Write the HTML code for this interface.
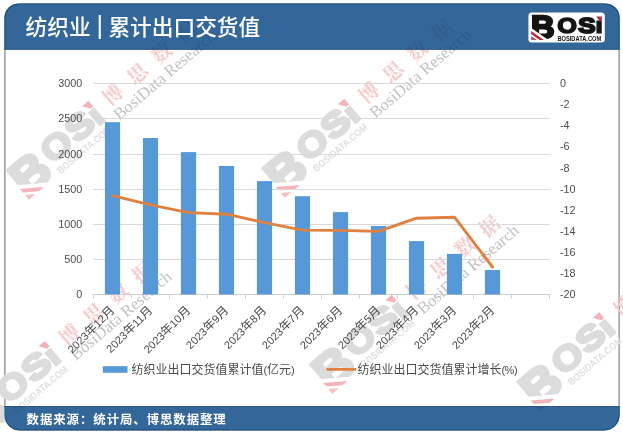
<!DOCTYPE html>
<html lang="zh-CN">
<head>
<meta charset="utf-8">
<title>纺织业 | 累计出口交货值</title>
<style>
html,body{margin:0;padding:0;background:#fff;}
body{width:623px;height:436px;overflow:hidden;position:relative;font-family:"Liberation Sans", "Noto Sans CJK SC", sans-serif;}
svg{position:absolute;left:0;top:0;display:block;}
text{font-family:"Liberation Sans", "Noto Sans CJK SC", sans-serif;}
.ax{font-size:10.8px;fill:#4c4c4c;}
.cj{font-size:12px;}
.lt{font-size:11px;}
.lg{fill:#4c4c4c;}
</style>
</head>
<body>
<svg width="623" height="436" viewBox="0 0 623 436">

<rect x="4.9" y="3.9" width="614.2" height="426.1" rx="14.5" ry="14.5" fill="#ffffff" stroke="#4d5a66" stroke-width="0.9"/>
<g>
<g transform="translate(93.6,113.5) rotate(-40.5)">
<g transform="scale(1.550) translate(-599,-24.8)">
<text transform="matrix(3.2701,0,0,3.1447,530.919,38.399)" font-size="10" font-family="Liberation Sans, sans-serif" font-weight="bold" fill="#dcdcdc" stroke="#dcdcdc" stroke-width="0.75" stroke-linejoin="miter">B</text>
<path d="M530,27.0 L549,40.4 L530,40.4 Z" fill="#ffffff"/>
<path d="M531.2,31.0 L543.8,40 L539.6,40 L531.2,34.0 Z" fill="#f3b3b8"/>
<path d="M531.2,36.0 L536.8,40 L531.2,40 Z" fill="#f5c0c4"/>
<text transform="matrix(2.5359,0,0,2.2308,557.273,32.796)" font-size="10" font-family="Liberation Sans, sans-serif" font-weight="bold" fill="#dcdcdc" stroke="#dcdcdc" stroke-width="0.70" stroke-linejoin="miter">O</text>
<text transform="matrix(2.5942,0,0,2.1750,578.289,32.604)" font-size="10" font-family="Liberation Sans, sans-serif" font-weight="bold" fill="#dcdcdc" stroke="#dcdcdc" stroke-width="0.90" stroke-linejoin="miter">S</text>
<text transform="matrix(2.7692,0,0,1.5946,595.292,33.401)" font-size="10" font-family="Liberation Sans, sans-serif" font-weight="bold" fill="#dcdcdc" stroke="#dcdcdc" stroke-width="0.50" stroke-linejoin="miter">I</text>
<path d="M596.4,16.4 H601.8 V21.2 H599.6 Z" fill="#f3b3b8"/>
<text x="557.4" y="40.9" font-size="6.4" font-family="Liberation Sans, sans-serif" font-weight="bold" fill="#e0e0e0" textLength="43.8" lengthAdjust="spacingAndGlyphs">BOSIDATA.COM</text>
</g>
<text x="17" y="5.5" font-size="20" letter-spacing="12" font-weight="700" fill="#f7cccc" style="font-family:'Liberation Serif','Noto Serif CJK SC',serif">博思数据</text>
<text x="15" y="22.5" font-size="16.7" fill="#c2c2c2" style="font-family:'Liberation Serif',serif">BosiData Research</text>
</g>
<g transform="translate(349.4,111.5) rotate(-40.5)">
<g transform="scale(1.550) translate(-599,-24.8)">
<text transform="matrix(3.2701,0,0,3.1447,530.919,38.399)" font-size="10" font-family="Liberation Sans, sans-serif" font-weight="bold" fill="#dcdcdc" stroke="#dcdcdc" stroke-width="0.75" stroke-linejoin="miter">B</text>
<path d="M530,27.0 L549,40.4 L530,40.4 Z" fill="#ffffff"/>
<path d="M531.2,31.0 L543.8,40 L539.6,40 L531.2,34.0 Z" fill="#f3b3b8"/>
<path d="M531.2,36.0 L536.8,40 L531.2,40 Z" fill="#f5c0c4"/>
<text transform="matrix(2.5359,0,0,2.2308,557.273,32.796)" font-size="10" font-family="Liberation Sans, sans-serif" font-weight="bold" fill="#dcdcdc" stroke="#dcdcdc" stroke-width="0.70" stroke-linejoin="miter">O</text>
<text transform="matrix(2.5942,0,0,2.1750,578.289,32.604)" font-size="10" font-family="Liberation Sans, sans-serif" font-weight="bold" fill="#dcdcdc" stroke="#dcdcdc" stroke-width="0.90" stroke-linejoin="miter">S</text>
<text transform="matrix(2.7692,0,0,1.5946,595.292,33.401)" font-size="10" font-family="Liberation Sans, sans-serif" font-weight="bold" fill="#dcdcdc" stroke="#dcdcdc" stroke-width="0.50" stroke-linejoin="miter">I</text>
<path d="M596.4,16.4 H601.8 V21.2 H599.6 Z" fill="#f3b3b8"/>
<text x="557.4" y="40.9" font-size="6.4" font-family="Liberation Sans, sans-serif" font-weight="bold" fill="#e0e0e0" textLength="43.8" lengthAdjust="spacingAndGlyphs">BOSIDATA.COM</text>
</g>
<text x="17" y="5.5" font-size="20" letter-spacing="12" font-weight="700" fill="#f7cccc" style="font-family:'Liberation Serif','Noto Serif CJK SC',serif">博思数据</text>
<text x="15" y="22.5" font-size="16.7" fill="#c2c2c2" style="font-family:'Liberation Serif',serif">BosiData Research</text>
</g>
<g transform="translate(50.0,353.6) rotate(-40.5)">
<g transform="scale(1.550) translate(-599,-24.8)">
<text transform="matrix(3.2701,0,0,3.1447,530.919,38.399)" font-size="10" font-family="Liberation Sans, sans-serif" font-weight="bold" fill="#dcdcdc" stroke="#dcdcdc" stroke-width="0.75" stroke-linejoin="miter">B</text>
<path d="M530,27.0 L549,40.4 L530,40.4 Z" fill="#ffffff"/>
<path d="M531.2,31.0 L543.8,40 L539.6,40 L531.2,34.0 Z" fill="#f3b3b8"/>
<path d="M531.2,36.0 L536.8,40 L531.2,40 Z" fill="#f5c0c4"/>
<text transform="matrix(2.5359,0,0,2.2308,557.273,32.796)" font-size="10" font-family="Liberation Sans, sans-serif" font-weight="bold" fill="#dcdcdc" stroke="#dcdcdc" stroke-width="0.70" stroke-linejoin="miter">O</text>
<text transform="matrix(2.5942,0,0,2.1750,578.289,32.604)" font-size="10" font-family="Liberation Sans, sans-serif" font-weight="bold" fill="#dcdcdc" stroke="#dcdcdc" stroke-width="0.90" stroke-linejoin="miter">S</text>
<text transform="matrix(2.7692,0,0,1.5946,595.292,33.401)" font-size="10" font-family="Liberation Sans, sans-serif" font-weight="bold" fill="#dcdcdc" stroke="#dcdcdc" stroke-width="0.50" stroke-linejoin="miter">I</text>
<path d="M596.4,16.4 H601.8 V21.2 H599.6 Z" fill="#f3b3b8"/>
<text x="557.4" y="40.9" font-size="6.4" font-family="Liberation Sans, sans-serif" font-weight="bold" fill="#e0e0e0" textLength="43.8" lengthAdjust="spacingAndGlyphs">BOSIDATA.COM</text>
</g>
<text x="17" y="5.5" font-size="20" letter-spacing="12" font-weight="700" fill="#f7cccc" style="font-family:'Liberation Serif','Noto Serif CJK SC',serif">博思数据</text>
<text x="15" y="22.5" font-size="16.7" fill="#c2c2c2" style="font-family:'Liberation Serif',serif">BosiData Research</text>
</g>
<g transform="translate(396.9,307.5) rotate(-40.5)">
<g transform="scale(1.550) translate(-599,-24.8)">
<text transform="matrix(3.2701,0,0,3.1447,530.919,38.399)" font-size="10" font-family="Liberation Sans, sans-serif" font-weight="bold" fill="#dcdcdc" stroke="#dcdcdc" stroke-width="0.75" stroke-linejoin="miter">B</text>
<path d="M530,27.0 L549,40.4 L530,40.4 Z" fill="#ffffff"/>
<path d="M531.2,31.0 L543.8,40 L539.6,40 L531.2,34.0 Z" fill="#f3b3b8"/>
<path d="M531.2,36.0 L536.8,40 L531.2,40 Z" fill="#f5c0c4"/>
<text transform="matrix(2.5359,0,0,2.2308,557.273,32.796)" font-size="10" font-family="Liberation Sans, sans-serif" font-weight="bold" fill="#dcdcdc" stroke="#dcdcdc" stroke-width="0.70" stroke-linejoin="miter">O</text>
<text transform="matrix(2.5942,0,0,2.1750,578.289,32.604)" font-size="10" font-family="Liberation Sans, sans-serif" font-weight="bold" fill="#dcdcdc" stroke="#dcdcdc" stroke-width="0.90" stroke-linejoin="miter">S</text>
<text transform="matrix(2.7692,0,0,1.5946,595.292,33.401)" font-size="10" font-family="Liberation Sans, sans-serif" font-weight="bold" fill="#dcdcdc" stroke="#dcdcdc" stroke-width="0.50" stroke-linejoin="miter">I</text>
<path d="M596.4,16.4 H601.8 V21.2 H599.6 Z" fill="#f3b3b8"/>
<text x="557.4" y="40.9" font-size="6.4" font-family="Liberation Sans, sans-serif" font-weight="bold" fill="#e0e0e0" textLength="43.8" lengthAdjust="spacingAndGlyphs">BOSIDATA.COM</text>
</g>
<text x="17" y="5.5" font-size="20" letter-spacing="12" font-weight="700" fill="#f7cccc" style="font-family:'Liberation Serif','Noto Serif CJK SC',serif">博思数据</text>
<text x="15" y="22.5" font-size="16.7" fill="#c2c2c2" style="font-family:'Liberation Serif',serif">BosiData Research</text>
</g>
<g transform="translate(604.4,325.0) rotate(-40.5)">
<g transform="scale(1.550) translate(-599,-24.8)">
<text transform="matrix(3.2701,0,0,3.1447,530.919,38.399)" font-size="10" font-family="Liberation Sans, sans-serif" font-weight="bold" fill="#dcdcdc" stroke="#dcdcdc" stroke-width="0.75" stroke-linejoin="miter">B</text>
<path d="M530,27.0 L549,40.4 L530,40.4 Z" fill="#ffffff"/>
<path d="M531.2,31.0 L543.8,40 L539.6,40 L531.2,34.0 Z" fill="#f3b3b8"/>
<path d="M531.2,36.0 L536.8,40 L531.2,40 Z" fill="#f5c0c4"/>
<text transform="matrix(2.5359,0,0,2.2308,557.273,32.796)" font-size="10" font-family="Liberation Sans, sans-serif" font-weight="bold" fill="#dcdcdc" stroke="#dcdcdc" stroke-width="0.70" stroke-linejoin="miter">O</text>
<text transform="matrix(2.5942,0,0,2.1750,578.289,32.604)" font-size="10" font-family="Liberation Sans, sans-serif" font-weight="bold" fill="#dcdcdc" stroke="#dcdcdc" stroke-width="0.90" stroke-linejoin="miter">S</text>
<text transform="matrix(2.7692,0,0,1.5946,595.292,33.401)" font-size="10" font-family="Liberation Sans, sans-serif" font-weight="bold" fill="#dcdcdc" stroke="#dcdcdc" stroke-width="0.50" stroke-linejoin="miter">I</text>
<path d="M596.4,16.4 H601.8 V21.2 H599.6 Z" fill="#f3b3b8"/>
<text x="557.4" y="40.9" font-size="6.4" font-family="Liberation Sans, sans-serif" font-weight="bold" fill="#e0e0e0" textLength="43.8" lengthAdjust="spacingAndGlyphs">BOSIDATA.COM</text>
</g>
<text x="17" y="5.5" font-size="20" letter-spacing="12" font-weight="700" fill="#f7cccc" style="font-family:'Liberation Serif','Noto Serif CJK SC',serif">博思数据</text>
<text x="15" y="22.5" font-size="16.7" fill="#c2c2c2" style="font-family:'Liberation Serif',serif">BosiData Research</text>
</g>
</g>
<line x1="93.0" y1="83.50" x2="550.0" y2="83.50" stroke="#d9d9d9" stroke-width="1"/>
<line x1="93.0" y1="118.50" x2="550.0" y2="118.50" stroke="#d9d9d9" stroke-width="1"/>
<line x1="93.0" y1="154.50" x2="550.0" y2="154.50" stroke="#d9d9d9" stroke-width="1"/>
<line x1="93.0" y1="189.50" x2="550.0" y2="189.50" stroke="#d9d9d9" stroke-width="1"/>
<line x1="93.0" y1="224.50" x2="550.0" y2="224.50" stroke="#d9d9d9" stroke-width="1"/>
<line x1="93.0" y1="259.50" x2="550.0" y2="259.50" stroke="#d9d9d9" stroke-width="1"/>
<line x1="93.0" y1="294.50" x2="550.0" y2="294.50" stroke="#cfcfcf" stroke-width="1"/>
<line x1="93.50" y1="294.50" x2="93.50" y2="298.50" stroke="#d0d0d0" stroke-width="1"/>
<line x1="131.50" y1="294.50" x2="131.50" y2="298.50" stroke="#d0d0d0" stroke-width="1"/>
<line x1="169.50" y1="294.50" x2="169.50" y2="298.50" stroke="#d0d0d0" stroke-width="1"/>
<line x1="207.50" y1="294.50" x2="207.50" y2="298.50" stroke="#d0d0d0" stroke-width="1"/>
<line x1="245.50" y1="294.50" x2="245.50" y2="298.50" stroke="#d0d0d0" stroke-width="1"/>
<line x1="283.50" y1="294.50" x2="283.50" y2="298.50" stroke="#d0d0d0" stroke-width="1"/>
<line x1="321.50" y1="294.50" x2="321.50" y2="298.50" stroke="#d0d0d0" stroke-width="1"/>
<line x1="359.50" y1="294.50" x2="359.50" y2="298.50" stroke="#d0d0d0" stroke-width="1"/>
<line x1="397.50" y1="294.50" x2="397.50" y2="298.50" stroke="#d0d0d0" stroke-width="1"/>
<line x1="435.50" y1="294.50" x2="435.50" y2="298.50" stroke="#d0d0d0" stroke-width="1"/>
<line x1="473.50" y1="294.50" x2="473.50" y2="298.50" stroke="#d0d0d0" stroke-width="1"/>
<line x1="511.50" y1="294.50" x2="511.50" y2="298.50" stroke="#d0d0d0" stroke-width="1"/>
<line x1="549.50" y1="294.50" x2="549.50" y2="298.50" stroke="#d0d0d0" stroke-width="1"/>
<rect x="104.90" y="122.20" width="15.2" height="172.30" fill="#5698d8"/>
<rect x="142.90" y="138.00" width="15.2" height="156.50" fill="#5698d8"/>
<rect x="180.90" y="152.10" width="15.2" height="142.40" fill="#5698d8"/>
<rect x="218.90" y="166.00" width="15.2" height="128.50" fill="#5698d8"/>
<rect x="256.90" y="181.10" width="15.2" height="113.40" fill="#5698d8"/>
<rect x="294.90" y="196.20" width="15.2" height="98.30" fill="#5698d8"/>
<rect x="332.90" y="212.10" width="15.2" height="82.40" fill="#5698d8"/>
<rect x="370.90" y="226.00" width="15.2" height="68.50" fill="#5698d8"/>
<rect x="408.90" y="241.10" width="15.2" height="53.40" fill="#5698d8"/>
<rect x="446.90" y="253.90" width="15.2" height="40.60" fill="#5698d8"/>
<rect x="484.90" y="270.00" width="15.2" height="24.50" fill="#5698d8"/>
<polyline points="112.50,195.70 150.50,204.90 188.50,212.60 226.50,214.20 264.50,222.70 302.50,230.10 340.50,230.40 378.50,231.40 416.50,218.20 454.50,217.20 492.50,267.00" fill="none" stroke="#e0813f" stroke-width="2.9" stroke-linejoin="round" stroke-linecap="round"/>
<text class="ax" x="82.3" y="87.20" text-anchor="end">3000</text>
<text class="ax" x="82.3" y="122.20" text-anchor="end">2500</text>
<text class="ax" x="82.3" y="158.20" text-anchor="end">2000</text>
<text class="ax" x="82.3" y="193.20" text-anchor="end">1500</text>
<text class="ax" x="82.3" y="228.20" text-anchor="end">1000</text>
<text class="ax" x="82.3" y="263.20" text-anchor="end">500</text>
<text class="ax" x="82.3" y="298.20" text-anchor="end">0</text>
<text class="ax" x="560" y="87.20">0</text>
<text class="ax" x="560" y="108.29">-2</text>
<text class="ax" x="560" y="129.38">-4</text>
<text class="ax" x="560" y="150.47">-6</text>
<text class="ax" x="560" y="171.56">-8</text>
<text class="ax" x="560" y="192.65">-10</text>
<text class="ax" x="560" y="213.74">-12</text>
<text class="ax" x="560" y="234.83">-14</text>
<text class="ax" x="560" y="255.92">-16</text>
<text class="ax" x="560" y="277.01">-18</text>
<text class="ax" x="560" y="298.10">-20</text>
<text class="lg" transform="translate(115.20,311.00) rotate(-45)" text-anchor="end"><tspan class="lt">2023</tspan><tspan class="cj">年</tspan><tspan class="lt">12</tspan><tspan class="cj">月</tspan></text>
<text class="lg" transform="translate(153.20,311.00) rotate(-45)" text-anchor="end"><tspan class="lt">2023</tspan><tspan class="cj">年</tspan><tspan class="lt">11</tspan><tspan class="cj">月</tspan></text>
<text class="lg" transform="translate(191.20,311.00) rotate(-45)" text-anchor="end"><tspan class="lt">2023</tspan><tspan class="cj">年</tspan><tspan class="lt">10</tspan><tspan class="cj">月</tspan></text>
<text class="lg" transform="translate(229.20,311.00) rotate(-45)" text-anchor="end"><tspan class="lt">2023</tspan><tspan class="cj">年</tspan><tspan class="lt">9</tspan><tspan class="cj">月</tspan></text>
<text class="lg" transform="translate(267.20,311.00) rotate(-45)" text-anchor="end"><tspan class="lt">2023</tspan><tspan class="cj">年</tspan><tspan class="lt">8</tspan><tspan class="cj">月</tspan></text>
<text class="lg" transform="translate(305.20,311.00) rotate(-45)" text-anchor="end"><tspan class="lt">2023</tspan><tspan class="cj">年</tspan><tspan class="lt">7</tspan><tspan class="cj">月</tspan></text>
<text class="lg" transform="translate(343.20,311.00) rotate(-45)" text-anchor="end"><tspan class="lt">2023</tspan><tspan class="cj">年</tspan><tspan class="lt">6</tspan><tspan class="cj">月</tspan></text>
<text class="lg" transform="translate(381.20,311.00) rotate(-45)" text-anchor="end"><tspan class="lt">2023</tspan><tspan class="cj">年</tspan><tspan class="lt">5</tspan><tspan class="cj">月</tspan></text>
<text class="lg" transform="translate(419.20,311.00) rotate(-45)" text-anchor="end"><tspan class="lt">2023</tspan><tspan class="cj">年</tspan><tspan class="lt">4</tspan><tspan class="cj">月</tspan></text>
<text class="lg" transform="translate(457.20,311.00) rotate(-45)" text-anchor="end"><tspan class="lt">2023</tspan><tspan class="cj">年</tspan><tspan class="lt">3</tspan><tspan class="cj">月</tspan></text>
<text class="lg" transform="translate(495.20,311.00) rotate(-45)" text-anchor="end"><tspan class="lt">2023</tspan><tspan class="cj">年</tspan><tspan class="lt">2</tspan><tspan class="cj">月</tspan></text>
<rect x="102.8" y="366.2" width="24.7" height="6.6" fill="#5698d8"/>
<text class="lg" x="131.4" y="373.6"><tspan class="cj">纺织业出口交货值累计值</tspan><tspan class="lt">(</tspan><tspan class="cj">亿元</tspan><tspan class="lt">)</tspan></text>
<line x1="327.5" y1="369.4" x2="355" y2="369.4" stroke="#e0813f" stroke-width="2.6" stroke-linecap="round"/>
<text class="lg" x="357.4" y="373.6"><tspan class="cj">纺织业出口交货值累计增长</tspan><tspan class="lt" letter-spacing="-0.45">(%)</tspan></text>
<path d="M4.4,49.6 V17.4 A14,14 0 0 1 18.4,3.4 H605.7 A14,14 0 0 1 619.7,17.4 V49.6 Z" fill="#01417f" fill-opacity="0.8"/>
<rect x="4.2" y="48.8" width="615.3" height="1" fill="#2d5680"/>
<text x="25.6" y="35.2" font-size="21.7" font-weight="500" fill="#ffffff">纺织业</text>
<text x="99.7" y="34.2" font-size="25.2" fill="#ffffff" text-anchor="middle">|</text>
<text x="108.4" y="35.2" font-size="21.7" font-weight="500" fill="#ffffff">累计出口交货值</text>
<g>
<rect x="528.4" y="12.4" width="76.4" height="30.2" rx="3.5" fill="#ffffff"/>
<text transform="matrix(3.2701,0,0,3.1447,530.919,38.399)" font-size="10" font-family="Liberation Sans, sans-serif" font-weight="bold" fill="#141414" stroke="#141414" stroke-width="0.75" stroke-linejoin="miter">B</text>
<path d="M530,27.0 L549,40.4 L530,40.4 Z" fill="#ffffff"/>
<path d="M531.2,31.0 L543.8,40 L539.6,40 L531.2,34.0 Z" fill="#b8283c"/>
<path d="M531.2,36.0 L536.8,40 L531.2,40 Z" fill="#c8485a"/>
<text transform="matrix(2.5359,0,0,2.2308,557.273,32.796)" font-size="10" font-family="Liberation Sans, sans-serif" font-weight="bold" fill="#141414" stroke="#141414" stroke-width="0.70" stroke-linejoin="miter">O</text>
<text transform="matrix(2.5942,0,0,2.1750,578.289,32.604)" font-size="10" font-family="Liberation Sans, sans-serif" font-weight="bold" fill="#141414" stroke="#141414" stroke-width="0.90" stroke-linejoin="miter">S</text>
<text transform="matrix(2.7692,0,0,1.5946,595.292,33.401)" font-size="10" font-family="Liberation Sans, sans-serif" font-weight="bold" fill="#141414" stroke="#141414" stroke-width="0.50" stroke-linejoin="miter">I</text>
<path d="M596.4,16.4 H601.8 V21.2 H599.6 Z" fill="#b8283c"/>
<text x="557.4" y="40.9" font-size="6.4" font-family="Liberation Sans, sans-serif" font-weight="bold" fill="#141414" textLength="43.8" lengthAdjust="spacingAndGlyphs">BOSIDATA.COM</text>
</g>
<path d="M4.4,406.2 H619.7 V415 A15.5,15.5 0 0 1 604.2,430.5 H19.9 A15.5,15.5 0 0 1 4.4,415 Z" fill="#01417f" fill-opacity="0.8"/>
<rect x="4.2" y="406" width="615.3" height="1" fill="#2d5680"/>
<text x="26.6" y="423.5" font-size="12.4" letter-spacing="0.95" font-weight="700" fill="#ffffff">数据来源：统计局、博思数据整理</text>
</svg>
</body>
</html>
